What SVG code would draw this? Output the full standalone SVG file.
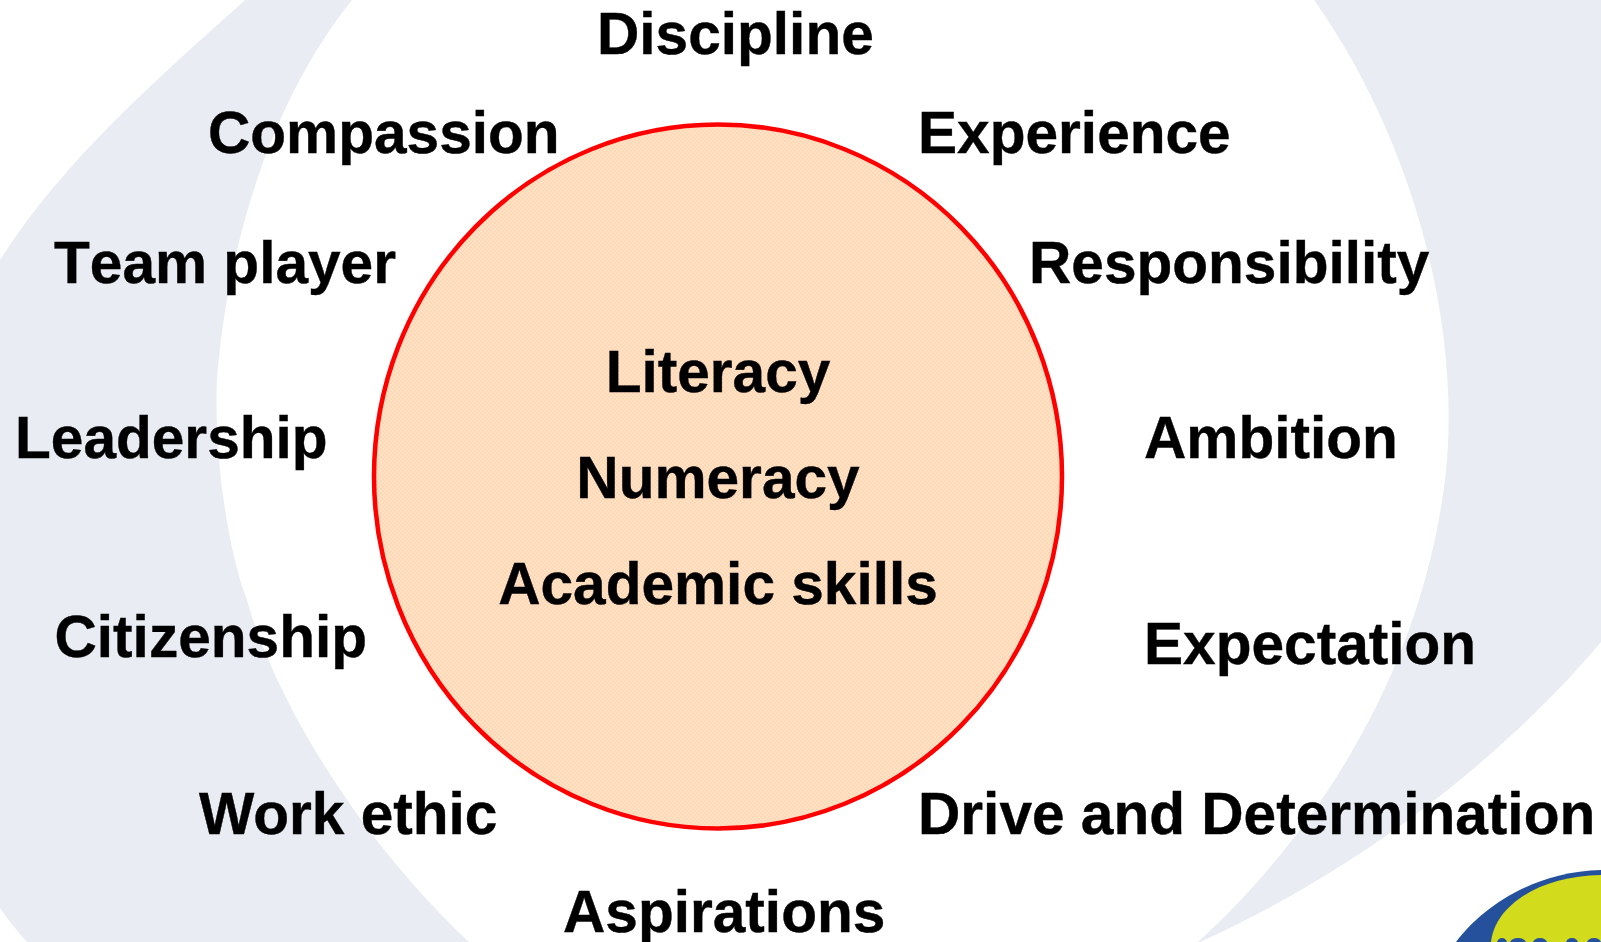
<svg xmlns="http://www.w3.org/2000/svg" width="1601" height="942" viewBox="0 0 1601 942">
<style>
text{font-family:"Liberation Sans",Arial,sans-serif;font-weight:700;font-size:58.6px;fill:#000;stroke:#000;stroke-width:.4px}
.band{fill:#E9ECF3}
.m{text-anchor:middle}
.mark{fill:#24509C}
</style>
<defs>
<pattern id="dither" width="4" height="4" patternUnits="userSpaceOnUse">
<rect width="4" height="4" fill="#FFE1C8"/>
<rect width="2" height="2" fill="#FFD8B4"/>
<rect x="2" y="2" width="2" height="2" fill="#FFD8B4"/>
</pattern>
</defs>
<rect width="1601" height="942" fill="#FFFFFF"/>
<g id="background">
<path class="band" d="M245 0L352 0C280 90 232 220 218 367C212 430 224 540 247 600C272 690 350 830 469 942L27 942C18 932 8 920 0 908L0 260C60 165 150 85 245 0Z"/>
<path class="band" d="M1314 0L1601 0L1601 642C1510 750 1370 865 1200 942L1198 942C1310 840 1420 680 1445 480C1462 340 1420 150 1314 0Z"/>
</g>
<g id="logo">
<path d="M1456 942C1480 910 1530 872 1601 870L1601 942Z" fill="#24509C"/>
<path d="M1491 942C1495 905 1540 876 1601 875L1601 942Z" fill="#D3DC1C"/>
<ellipse class="mark" cx="1502" cy="943" rx="5" ry="5"/>
<ellipse class="mark" cx="1518" cy="943" rx="8" ry="5"/>
<ellipse class="mark" cx="1540" cy="943" rx="7" ry="5"/>
<ellipse class="mark" cx="1572" cy="943" rx="6" ry="5"/>
<ellipse class="mark" cx="1594" cy="943" rx="7" ry="5"/>
</g>
<g id="core">
<ellipse cx="718" cy="476.500" rx="344" ry="352" fill="url(#dither)" stroke="#FF0000" stroke-width="4.500"/>
<text class="m" x="718" y="392">Literacy</text>
<text class="m" x="718" y="498">Numeracy</text>
<text class="m" x="718" y="604">Academic skills</text>
</g>
<g id="discipline"><text x="597" y="54">Discipline</text></g>
<g id="compassion"><text x="208" y="153">Compassion</text></g>
<g id="experience"><text x="918" y="153">Experience</text></g>
<g id="team-player"><text x="54" y="283" style="font-kerning:none">Team player</text></g>
<g id="responsibility"><text x="1029" y="283">Responsibility</text></g>
<g id="leadership"><text x="15" y="458">Leadership</text></g>
<g id="ambition"><text x="1144" y="458">Ambition</text></g>
<g id="citizenship"><text x="54.500" y="657">Citizenship</text></g>
<g id="expectation"><text x="1144" y="664">Expectation</text></g>
<g id="work-ethic"><text x="199" y="834">Work ethic</text></g>
<g id="drive"><text x="918" y="834">Drive and Determination</text></g>
<g id="aspirations"><text x="563" y="932">Aspirations</text></g>
</svg>
